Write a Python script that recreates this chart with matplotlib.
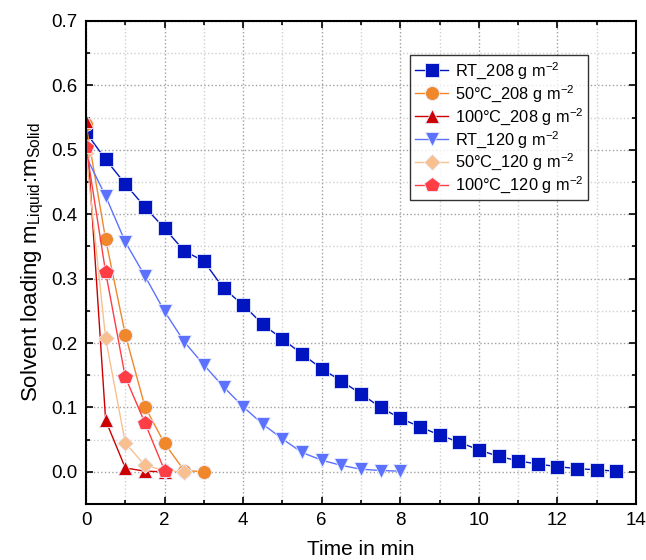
import numpy as np
import matplotlib
matplotlib.use("Agg")
import matplotlib.pyplot as plt
from matplotlib.ticker import MultipleLocator

plt.rcParams['font.family'] = ['Liberation Sans', 'DejaVu Sans']
plt.rcParams['mathtext.default'] = 'regular'

# Zeit in min
t_rt208 = np.arange(0, 13.51, 0.5)
y_rt208 = [0.527, 0.485, 0.447, 0.411, 0.378, 0.343, 0.327, 0.285, 0.259, 0.229,
           0.206, 0.183, 0.160, 0.141, 0.121, 0.100, 0.083, 0.070, 0.057, 0.046,
           0.034, 0.024, 0.017, 0.012, 0.008, 0.005, 0.003, 0.001]

t_50208 = [0, 0.5, 1, 1.5, 2, 2.5, 3]
y_50208 = [0.540, 0.361, 0.213, 0.101, 0.044, 0.002, 0.0]

t_100208 = [0, 0.5, 1, 1.5, 2]
y_100208 = [0.545, 0.080, 0.006, 0.001, 0.0]

t_rt120 = np.arange(0, 8.01, 0.5)
y_rt120 = [0.490, 0.428, 0.357, 0.304, 0.249, 0.202, 0.166, 0.132, 0.101, 0.074,
           0.051, 0.030, 0.018, 0.010, 0.004, 0.002, 0.001]

t_50120 = [0, 0.5, 1, 1.5, 2, 2.5]
y_50120 = [0.495, 0.207, 0.045, 0.010, 0.002, 0.0]

t_100120 = [0, 0.5, 1, 1.5, 2]
y_100120 = [0.505, 0.310, 0.147, 0.076, 0.002]

labels = ['RT_208 g m$^{-2}$', '50°C_208 g m$^{-2}$', '100°C_208 g m$^{-2}$',
          'RT_120 g m$^{-2}$', '50°C_120 g m$^{-2}$', '100°C_120 g m$^{-2}$']

fig = plt.figure(figsize=(6.46, 5.6), dpi=100)
ax = fig.add_axes([86/646, 56/560, 550/646, 483/560])

# (x, y, farbe, marker, groesse)
serien = [
    (t_rt208, y_rt208, '#0015C0', 's', 9.5),
    (t_50208, y_50208, '#F0872A', 'o', 10),
    (t_100208, y_100208, '#CC0000', '^', 10.5),
    (t_rt120, y_rt120, '#5C72FF', 'v', 10.5),
    (t_50120, y_50120, '#F8C08E', 'D', 8.5),
    (t_100120, y_100120, '#FF3D45', 'p', 11.5),
]
for (x, y, c, m, ms), lab in zip(serien, labels):
    ax.plot(x, y, color=c, marker=m, markersize=ms, lw=1.0,
            markeredgecolor='#E8ECFF', markeredgewidth=0.6, label=lab)

ax.set_xlim(0, 14)
ax.set_ylim(-0.05, 0.7)
ax.xaxis.set_major_locator(MultipleLocator(2))
ax.xaxis.set_minor_locator(MultipleLocator(1))
ax.yaxis.set_major_locator(MultipleLocator(0.1))
ax.yaxis.set_minor_locator(MultipleLocator(0.05))
ax.yaxis.set_major_formatter(matplotlib.ticker.FormatStrFormatter('%.1f'))

ax.grid(which='major', color='#A0A0A0', linestyle=':', lw=1.0)
ax.grid(which='minor', color='#D0D0D0', linestyle=':', lw=1.0)
ax.set_axisbelow(True)

ax.tick_params(which='both', direction='in', top=True, right=True, labelsize=13.5, width=1.2)
ax.tick_params(which='major', length=5, pad=6)
ax.tick_params(which='minor', length=3)
for s in ax.spines.values():
    s.set_linewidth(1.5)

ax.set_xlabel('Time in min', fontsize=15, labelpad=8)
ax.set_ylabel('Solvent loading m$_{Liquid}$:m$_{Solid}$', fontsize=16, labelpad=4)

leg = ax.legend(loc='upper right', bbox_to_anchor=(0.913, 0.93), fontsize=11.8,
                frameon=True, fancybox=False, edgecolor='black', borderaxespad=0,
                handlelength=2.0, borderpad=0.3, labelspacing=0.12, handletextpad=0.4)
leg.get_frame().set_linewidth(1.0)

plt.savefig('out.png', dpi=100)
